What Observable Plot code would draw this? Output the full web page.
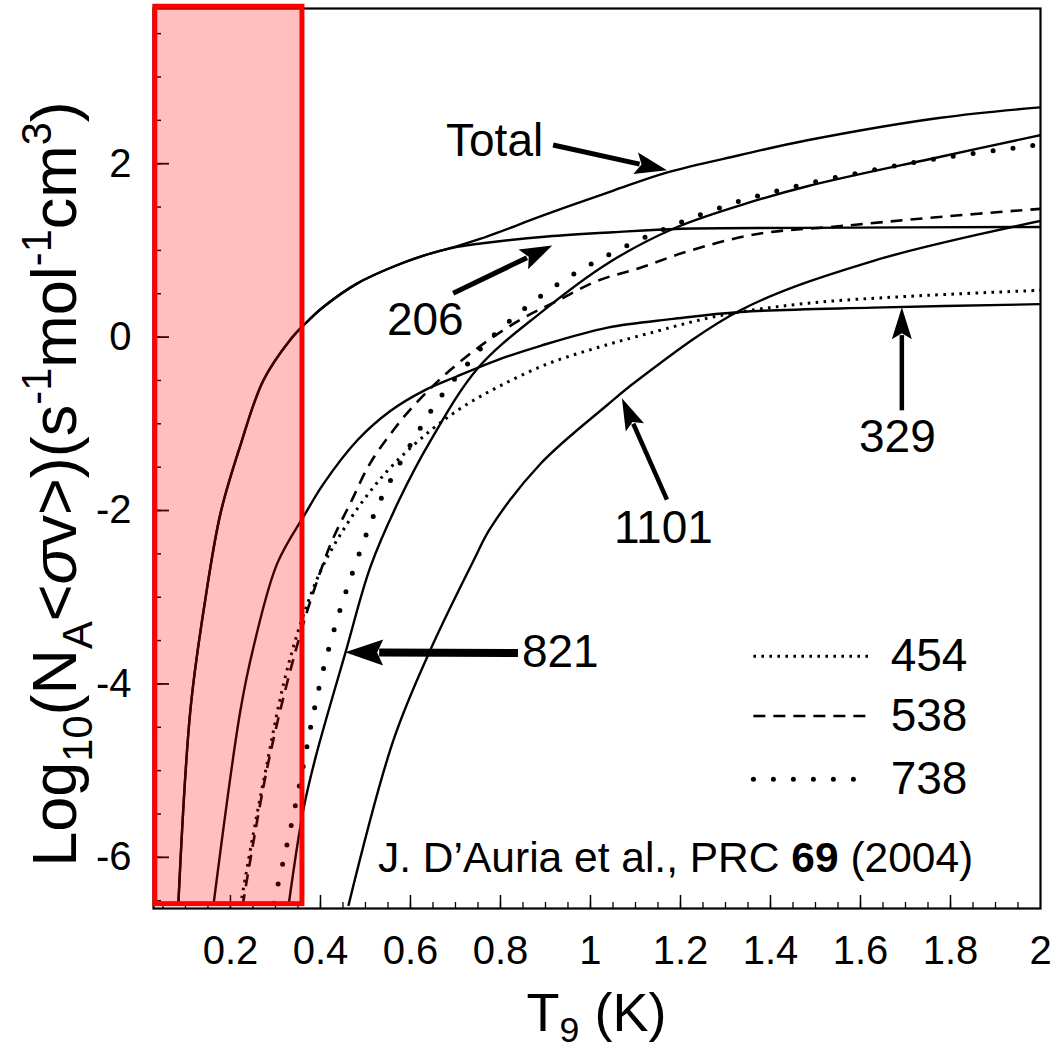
<!DOCTYPE html>
<html>
<head>
<meta charset="utf-8">
<script src="https://cdn.jsdelivr.net/npm/d3@7"></script>
<script src="https://cdn.jsdelivr.net/npm/@observablehq/plot@0.6"></script>
<style>
  html, body { margin: 0; padding: 0; background: #fff; }
  #chart svg { display: block; }
</style>
</head>
<body>
<div id="chart"></div>
<script>
// ---------- Data: [T9 (GK), log10 rate] ----------
const totalRate = [[0.084,-6.56],[0.111,-4.30],[0.144,-3.03],[0.178,-2.03],[0.222,-1.25],[0.273,-0.50],[0.333,-0.03],[0.367,0.16],[0.407,0.35],[0.482,0.62],[0.556,0.80],[0.629,0.94],[0.704,1.05],[0.756,1.135],[0.904,1.42],[1.051,1.69],[1.171,1.90],[1.333,2.10],[1.482,2.27],[1.778,2.53],[2.0,2.65]];
const rate206 = [[0.084,-6.56],[0.111,-4.30],[0.144,-3.03],[0.178,-2.03],[0.222,-1.25],[0.273,-0.50],[0.333,-0.03],[0.367,0.16],[0.407,0.35],[0.482,0.62],[0.556,0.80],[0.629,0.94],[0.704,1.04],[0.756,1.08],[0.904,1.16],[1.051,1.21],[1.20,1.25],[1.467,1.26],[2.0,1.27]];
const rate329 = [[0.162,-6.56],[0.222,-4.31],[0.251,-3.58],[0.304,-2.61],[0.367,-2.03],[0.407,-1.69],[0.482,-1.19],[0.556,-0.85],[0.629,-0.62],[0.70,-0.46],[0.79,-0.27],[0.889,-0.10],[1.038,0.11],[1.184,0.21],[1.333,0.29],[1.629,0.34],[2.0,0.38]];
const rate454 = [[0.222,-6.56],[0.25,-5.75],[0.28,-4.95],[0.318,-4.0],[0.356,-3.3],[0.40,-2.70],[0.444,-2.28],[0.50,-1.85],[0.56,-1.48],[0.644,-1.08],[0.718,-0.80],[0.80,-0.56],[0.904,-0.31],[1.016,-0.12],[1.127,0.04],[1.289,0.25],[1.482,0.39],[1.704,0.47],[2.0,0.54]];
const rate538 = [[0.227,-6.56],[0.284,-4.91],[0.356,-3.41],[0.407,-2.60],[0.429,-2.31],[0.467,-1.91],[0.511,-1.45],[0.573,-1.0],[0.604,-0.81],[0.673,-0.45],[0.756,-0.10],[0.844,0.20],[0.927,0.42],[1.016,0.65],[1.111,0.80],[1.216,0.99],[1.371,1.19],[1.556,1.28],[1.762,1.38],[2.0,1.48]];
const rate738 = [[0.296,-6.53],[0.318,-6.03],[0.340,-5.51],[0.362,-4.94],[0.382,-4.40],[0.407,-3.82],[0.438,-3.24],[0.467,-2.78],[0.518,-2.06],[0.544,-1.77],[0.616,-1.10],[0.671,-0.66],[0.722,-0.34],[0.771,-0.05],[0.844,0.29],[0.927,0.61],[1.011,0.87],[1.10,1.10],[1.189,1.30],[1.333,1.57],[1.473,1.76],[1.622,1.92],[1.771,2.06],[2.0,2.22]];
const rate821 = [[0.329,-6.56],[0.362,-5.45],[0.389,-4.85],[0.456,-3.63],[0.511,-2.65],[0.573,-1.90],[0.644,-1.20],[0.751,-0.35],[0.889,0.28],[1.038,0.85],[1.184,1.25],[1.333,1.52],[1.482,1.74],[1.778,2.08],[2.0,2.33]];
const rate1101 = [[0.462,-6.56],[0.562,-4.65],[0.644,-3.61],[0.74,-2.58],[0.778,-2.20],[0.889,-1.46],[1.038,-0.78],[1.104,-0.50],[1.333,0.31],[1.629,0.88],[2.0,1.34]];

// ---------- Axes / ticks ----------
const xTickLabels = [0.2, 0.4, 0.6, 0.8, 1, 1.2, 1.4, 1.6, 1.8, 2];
const xMajorTicks = [0.2, 0.4, 0.6, 0.8, 1, 1.2, 1.4, 1.6, 1.8];
const xMinorTicks = d3.range(1, 40).map(i => +(i * 0.05).toFixed(2));
const yTickLabels = [-6, -4, -2, 0, 2];
const yMinorTicks = d3.range(-13, 8).map(i => i * 0.5);
const xDomain = [0.029, 2.0];
const yDomain = [-6.59, 3.79];

// ---------- Annotations ----------
const curveLabels = [
  {text: "Total", x: 0.787, y: 2.26},
  {text: "206", x: 0.633, y: 0.19},
  {text: "329", x: 1.682, y: -1.16},
  {text: "1101", x: 1.162, y: -2.21},
  {text: "821", x: 0.933, y: -3.64}
];
const arrowSpecs = [
  {label: "Total", x1: 0.918, y1: 2.21, x2: 1.171, y2: 1.92},
  {label: "206", x1: 0.696, y1: 0.50, x2: 0.916, y2: 1.05},
  {label: "329", x1: 1.693, y1: -0.85, x2: 1.693, y2: 0.34},
  {label: "1101", x1: 1.171, y1: -1.88, x2: 1.071, y2: -0.71},
  {label: "821", x1: 0.84, y1: -3.65, x2: 0.456, y2: -3.64}
];
const legendItems = [
  {name: "454", y: -3.68},
  {name: "538", y: -4.37},
  {name: "738", y: -5.10}
];
const legendSampleX = [1.362, 1.627];
const legendTextX = 1.667;
const citation = {x: 0.529, y: -6.17, parts: [{t: "J. D\u2019Auria et al., PRC "}, {t: "69", bold: true}, {t: " (2004)"}]};
const lowTempRegion = [{x1: 0.033, x2: 0.36, y1: -6.54, y2: 3.81}];

// ---------- Styles ----------
const styles = {
  solid: {dash: null, width: 2.4, cap: "butt"},
  s454: {dash: "2.6,5.4", width: 3, cap: "butt"},
  s538: {dash: "12,8", width: 2.6, cap: "butt"},
  s738: {dash: "0,20", width: 5, cap: "round"}
};
const series = [
  {name: "Total", data: totalRate, style: "solid"},
  {name: "206", data: rate206, style: "solid"},
  {name: "329", data: rate329, style: "solid"},
  {name: "821", data: rate821, style: "solid"},
  {name: "1101", data: rate1101, style: "solid"},
  {name: "454", data: rate454, style: "s454"},
  {name: "538", data: rate538, style: "s538"},
  {name: "738", data: rate738, style: "s738"}
];
const arrowStyle = {
  "Total": {w: 5, head: 32, half: 11},
  "206": {w: 5, head: 32, half: 11},
  "329": {w: 4.5, head: 32, half: 10},
  "1101": {w: 4.5, head: 32, half: 10},
  "821": {w: 8, head: 38, half: 13}
};

const W = 1058, H = 1053;
const margin = {top: 8, right: 18, bottom: 145, left: 153};
const frameW = W - margin.left - margin.right;
const frameH = H - margin.top - margin.bottom;
const FONT = "'Liberation Sans', Arial, Helvetica, sans-serif";

function richText(sel, parts, size, subShift = 0.26) {
  let shift = 0;
  for (const p of parts) {
    const small = p.sub || p.sup;
    const fs = small ? size * 0.66 : size;
    const target = p.sub ? size * subShift : p.sup ? -size * 0.40 : 0;
    sel.append("tspan")
      .attr("dy", target - shift)
      .attr("font-size", fs)
      .attr("font-weight", p.bold ? "bold" : null)
      .attr("font-style", p.italic ? "italic" : null)
      .text(p.t);
    shift = target;
  }
}

const arrowsRender = (index, scales) => {
  const g = d3.create("svg:g");
  for (const a of arrowSpecs) {
    const st = arrowStyle[a.label];
    const x1 = scales.x(a.x1), y1 = scales.y(a.y1), x2 = scales.x(a.x2), y2 = scales.y(a.y2);
    const ang = Math.atan2(y2 - y1, x2 - x1);
    const c = Math.cos(ang), s = Math.sin(ang);
    const bx = x2 - st.head * c, by = y2 - st.head * s;
    g.append("line").attr("x1", x1).attr("y1", y1).attr("x2", bx + 4 * c).attr("y2", by + 4 * s)
      .attr("stroke", "#000").attr("stroke-width", st.w);
    g.append("path")
      .attr("d", `M${x2},${y2}L${bx - st.half * s},${by + st.half * c}L${bx + 6 * c},${by + 6 * s}L${bx + st.half * s},${by - st.half * c}Z`)
      .attr("fill", "#000");
  }
  return g.node();
};

const titlesRender = (index, scales, values, dims) => {
  const g = d3.create("svg:g").attr("fill", "#000").attr("font-family", FONT);
  // y-axis title
  const yt = g.append("text")
    .attr("transform", `translate(76, 484) rotate(-90)`)
    .attr("text-anchor", "middle").attr("font-size", 63);
  richText(yt, [
    {t: "Log"}, {t: "10", sub: true}, {t: "(N"}, {t: "A", sub: true},
    {t: "<"}, {t: "\u03c3", italic: true}, {t: "v>)(s"}, {t: "-1", sup: true},
    {t: "mol"}, {t: "-1", sup: true}, {t: "cm"}, {t: "3", sup: true}, {t: ")"}
  ], 63);
  // x-axis title
  const xt = g.append("text")
    .attr("x", dims.marginLeft + (dims.width - dims.marginLeft - dims.marginRight) / 2)
    .attr("y", 1031).attr("text-anchor", "middle").attr("font-size", 54);
  richText(xt, [{t: "T"}, {t: "9", sub: true}, {t: " (K)"}], 54, 0.2);
  // citation
  const ct = g.append("text").attr("x", scales.x(citation.x)).attr("y", scales.y(citation.y))
    .attr("font-size", 42.5).attr("text-anchor", "start");
  richText(ct, citation.parts, 42.5);
  return g.node();
};

const lineMarks = series.map(s => {
  const st = styles[s.style];
  return Plot.line(s.data, {
    x: d => d[0], y: d => d[1], curve: "catmull-rom",
    stroke: "#000", strokeWidth: st.width, strokeDasharray: st.dash,
    strokeLinecap: st.cap, clip: "frame"
  });
});

const legendMarks = legendItems.map(item => {
  const st = styles["s" + item.name];
  return Plot.line(legendSampleX.map(x => ({x, y: item.y})), {
    x: "x", y: "y", stroke: "#000", strokeWidth: st.width,
    strokeDasharray: st.dash, strokeLinecap: st.cap
  });
});

const chart = Plot.plot({
  width: W, height: H,
  marginTop: margin.top, marginRight: margin.right, marginBottom: margin.bottom, marginLeft: margin.left,
  style: {fontFamily: FONT, fontSize: "40px", color: "#000", background: "#fff"},
  x: {domain: xDomain, axis: null},
  y: {domain: yDomain, axis: null},
  marks: [
    ...lineMarks,
    ...legendMarks,
    Plot.text(legendItems, {x: () => legendTextX, y: "y", text: "name", textAnchor: "start", fontSize: 46, fill: "#000"}),
    Plot.text(curveLabels, {x: "x", y: "y", text: "text", fontSize: 46, fill: "#000"}),
    arrowsRender,
    Plot.tickX(xMinorTicks, {x: d => d, insetTop: frameH - 6, stroke: "#000", strokeWidth: 1.3}),
    Plot.tickX(xMajorTicks, {x: d => d, insetTop: frameH - 13, stroke: "#000", strokeWidth: 1.5}),
    Plot.tickY(yMinorTicks, {y: d => d, insetRight: frameW - 8, stroke: "#000", strokeWidth: 1.5}),
    Plot.tickY(yTickLabels, {y: d => d, insetRight: frameW - 16, stroke: "#000", strokeWidth: 1.8}),
    Plot.axisX(xTickLabels, {anchor: "bottom", tickSize: 0, tickPadding: 27, fontSize: 40, label: null, tickFormat: d => String(d)}),
    Plot.axisY(yTickLabels, {anchor: "left", tickSize: 0, tickPadding: 22, fontSize: 40, label: null, tickFormat: d => String(d)}),
    Plot.frame({stroke: "#000", strokeWidth: 2.2}),
    Plot.rect(lowTempRegion, {x1: "x1", x2: "x2", y1: "y1", y2: "y2", fill: "red", fillOpacity: 0.25, stroke: "#ff0000", strokeWidth: 5}),
    titlesRender
  ]
});
document.getElementById("chart").appendChild(chart);
</script>
</body>
</html>
